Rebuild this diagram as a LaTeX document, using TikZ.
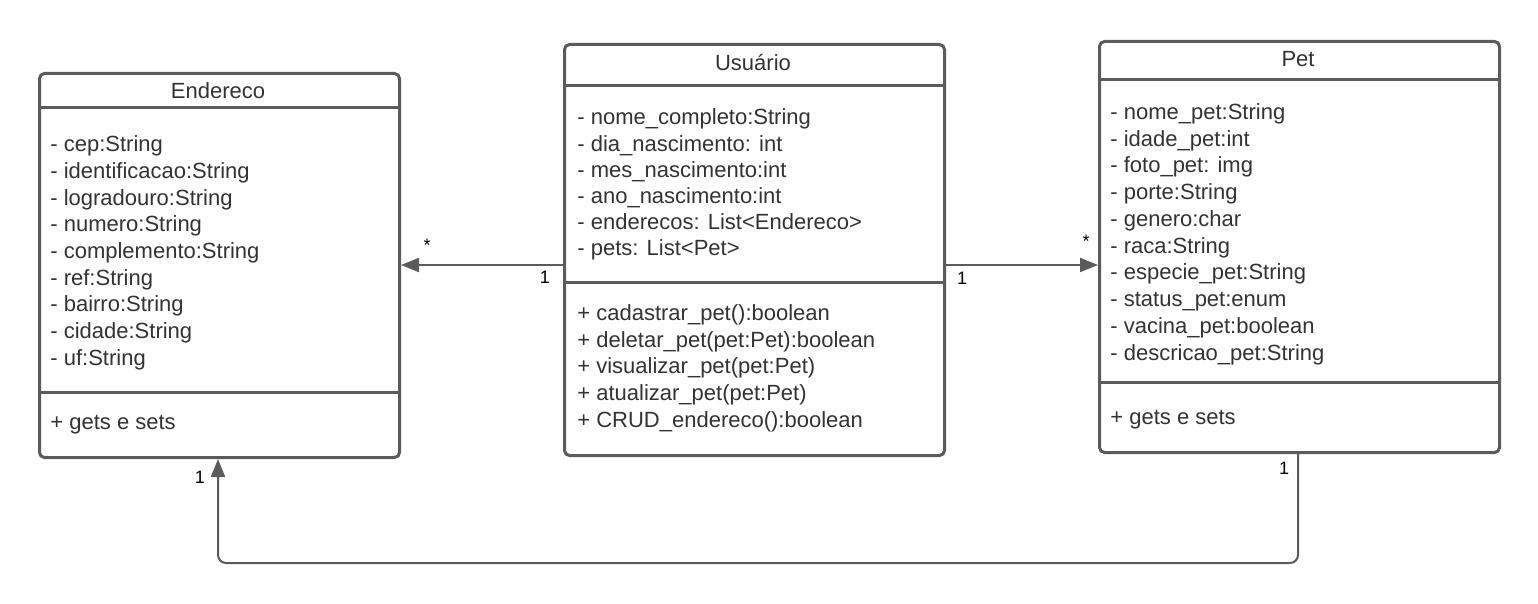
\documentclass[tikz,border=0pt]{standalone}
\usepackage{fontspec}
\setmainfont{Liberation Sans}
\usetikzlibrary{arrows.meta}
\definecolor{linec}{HTML}{5B5B5B}
\definecolor{txtc}{HTML}{333333}
\begin{document}
\begin{tikzpicture}[x=0.5pt,y=-0.5pt,
 classbox/.style={draw=linec, line width=1.5pt, rounded corners=2.5pt, anchor=north west, inner sep=0, fill=white},
 sepline/.style={draw=linec, line width=1.5pt},
 title/.style={text=txtc, font=\fontsize{11}{13}\selectfont, inner sep=0, text height=0.72em, text depth=0.2em, yshift=-1.5pt},
 member/.style={text=txtc, font=\fontsize{11}{13}\selectfont, anchor=west, inner sep=0, text height=0.72em, text depth=0.2em, yshift=-1.5pt},
 assoc/.style={draw=linec, line width=1pt, -{Triangle[length=9pt,width=7pt]}},
 mult/.style={text=black, font=\fontsize{9}{11}\selectfont, inner sep=0}
]
\useasboundingbox (0,0) rectangle (1538,604);

% Endereco
\node[classbox, minimum width=180pt, minimum height=192pt] (end) at (38,72) {};
\coordinate (endsep1) at (0,108);
\coordinate (endsep2) at (0,393);
\draw[sepline] (end.west |- endsep1) -- (end.east |- endsep1);
\draw[sepline] (end.west |- endsep2) -- (end.east |- endsep2);
\node[title] (endt) at (218,90) {Endereco};
\node[member] (e1) at (50,143) {- cep:String};
\node[member] (e2) at (50,170) {- identificacao:String};
\node[member] (e3) at (50,197) {- logradouro:String};
\node[member] (e4) at (50,223) {- numero:String};
\node[member] (e5) at (50,250) {- complemento:String};
\node[member] (e6) at (50,277) {- ref:String};
\node[member] (e7) at (50,303) {- bairro:String};
\node[member] (e8) at (50,330) {- cidade:String};
\node[member] (e9) at (50,357) {- uf:String};
\node[member] (em1) at (50,421) {+ gets e sets};

% Usuario
\node[classbox, minimum width=190pt, minimum height=205.5pt] (usr) at (563,43) {};
\coordinate (usrsep1) at (0,86);
\coordinate (usrsep2) at (0,283);
\draw[sepline] (usr.west |- usrsep1) -- (usr.east |- usrsep1);
\draw[sepline] (usr.west |- usrsep2) -- (usr.east |- usrsep2);
\node[title] (usrt) at (753,62) {Usuário};
\node[member] (u1) at (577,116) {- nome\_completo:String};
\node[member] (u2) at (577,143) {- dia\_nascimento: int};
\node[member] (u3) at (577,169) {- mes\_nascimento:int};
\node[member] (u4) at (577,195) {- ano\_nascimento:int};
\node[member] (u5) at (577,221) {- enderecos: List<Endereco>};
\node[member] (u6) at (577,247) {- pets: List<Pet>};
\node[member] (um1) at (577,312) {+ cadastrar\_pet():boolean};
\node[member] (um2) at (577,339) {+ deletar\_pet(pet:Pet):boolean};
\node[member] (um3) at (577,365) {+ visualizar\_pet(pet:Pet)};
\node[member] (um4) at (577,392) {+ atualizar\_pet(pet:Pet)};
\node[member] (um5) at (577,419) {+ CRUD\_endereco():boolean};

% Pet
\node[classbox, minimum width=200pt, minimum height=205.5pt] (pet) at (1098,40) {};
\coordinate (petsep1) at (0,80);
\coordinate (petsep2) at (0,383);
\draw[sepline] (pet.west |- petsep1) -- (pet.east |- petsep1);
\draw[sepline] (pet.west |- petsep2) -- (pet.east |- petsep2);
\node[title] (pett) at (1298,58) {Pet};
\node[member] (p1) at (1110,111) {- nome\_pet:String};
\node[member] (p2) at (1110,138) {- idade\_pet:int};
\node[member] (p3) at (1110,164) {- foto\_pet: img};
\node[member] (p4) at (1110,191) {- porte:String};
\node[member] (p5) at (1110,218) {- genero:char};
\node[member] (p6) at (1110,245) {- raca:String};
\node[member] (p7) at (1110,271) {- especie\_pet:String};
\node[member] (p8) at (1110,298) {- status\_pet:enum};
\node[member] (p9) at (1110,325) {- vacina\_pet:boolean};
\node[member] (p10) at (1110,352) {- descricao\_pet:String};
\node[member] (pm1) at (1110,416) {+ gets e sets};

% connectors
\coordinate (ay) at (0,265);
\draw[assoc] (usr.west |- ay) -- (end.east |- ay);
\draw[assoc] (usr.east |- ay) -- (pet.west |- ay);
\coordinate (px) at (1298,0);
\coordinate (ex) at (218,0);
\coordinate (by) at (0,563);
\draw[assoc, rounded corners=4pt] (pet.south -| px) -- (px |- by) -- (ex |- by) -- (end.south -| ex);

% multiplicities
\node[mult] (m1) at (427,245) {*};
\node[mult] (m2) at (545,277) {1};
\node[mult] (m3) at (962,278) {1};
\node[mult] (m4) at (1086,241) {*};
\node[mult] (m5) at (1284,468) {1};
\node[mult] (m6) at (200,477) {1};
\end{tikzpicture}
\end{document}
